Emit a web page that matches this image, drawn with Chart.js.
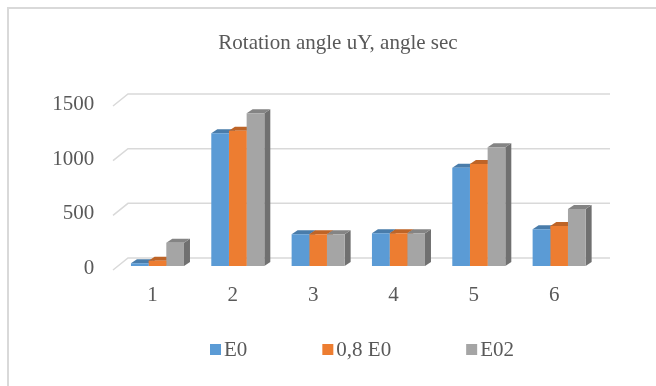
<!DOCTYPE html>
<html>
<head>
<meta charset="utf-8">
<script src="https://cdn.jsdelivr.net/npm/chart.js@4/dist/chart.umd.min.js"></script>
<style>
  html, body { margin: 0; padding: 0; background: #ffffff; }
  #wrap { width: 656px; height: 386px; position: relative; }
</style>
</head>
<body>
<div id="wrap"><canvas id="c" width="656" height="386"></canvas></div>
<script>
// Categories, series and axis ticks
const categories = ['1', '2', '3', '4', '5', '6'];
const seriesNames = ['E0', '0,8 E0', 'E02'];
const seriesE0 = [25, 1214, 290, 300, 899, 336];
const series08E0 = [48, 1238, 290, 300, 933, 366];
const seriesE02 = [213, 1397, 290, 300, 1086, 521];
const yTickValues = [0, 500, 1000, 1500];
const titleText = 'Rotation angle uY, angle sec';

const colors = ['#5b9bd5', '#ed7d31', '#a5a5a5'];
const textColor = '#595959';
const gridColor = '#d9d9d9';
const FONT = '"Liberation Serif", "Times New Roman", serif';
const FONT_SIZE = 21;

// Pseudo-3D geometry (pixels)
const BAR_DX = 6, BAR_DY = 4;        // column depth
const WALL_DX = 10.7, WALL_DY = 8;   // back wall relative to column plane
const FRONT_DX = 4.3, FRONT_DY = 4;  // front edge relative to column plane

function shade(hex, f) {
  const n = parseInt(hex.slice(1), 16);
  const r = Math.round(((n >> 16) & 255) * f);
  const g = Math.round(((n >> 8) & 255) * f);
  const b = Math.round((n & 255) * f);
  return `rgb(${r},${g},${b})`;
}

const pseudo3d = {
  id: 'pseudo3d',
  beforeDraw(chart) {
    const ctx = chart.ctx;
    ctx.save();
    // outer frame
    ctx.strokeStyle = gridColor;
    ctx.lineWidth = 2;
    ctx.beginPath();
    ctx.moveTo(8, 400);
    ctx.lineTo(8, 8);
    ctx.lineTo(700, 8);
    ctx.stroke();
    // chart title
    ctx.font = FONT_SIZE + 'px ' + FONT;
    ctx.fillStyle = textColor;
    ctx.textAlign = 'center';
    ctx.textBaseline = 'alphabetic';
    ctx.fillText(titleText, 338, 49);
    ctx.restore();
  },
  beforeDatasetsDraw(chart) {
    const { ctx, chartArea: a } = chart;
    const y = chart.scales.y;
    ctx.save();
    // floor and wall gridlines
    ctx.strokeStyle = gridColor;
    ctx.lineWidth = 1.5;
    yTickValues.forEach(v => {
      const py = y.getPixelForValue(v);
      ctx.beginPath();
      ctx.moveTo(a.left - FRONT_DX, py + FRONT_DY);
      ctx.lineTo(a.left + WALL_DX, py - WALL_DY);
      ctx.lineTo(a.right + WALL_DX, py - WALL_DY);
      ctx.stroke();
    });
    // side and top faces of the columns, front faces are drawn by the chart
    categories.forEach((_, i) => {
      chart.data.datasets.forEach((ds, d) => {
        const el = chart.getDatasetMeta(d).data[i];
        const x0 = el.x - el.width / 2, x1 = el.x + el.width / 2;
        const top = el.y, base = el.base;
        ctx.fillStyle = shade(colors[d], 0.68);
        ctx.beginPath();
        ctx.moveTo(x1, top);
        ctx.lineTo(x1 + BAR_DX, top - BAR_DY);
        ctx.lineTo(x1 + BAR_DX, base - BAR_DY);
        ctx.lineTo(x1, base);
        ctx.closePath();
        ctx.fill();
        ctx.fillStyle = shade(colors[d], 0.8);
        ctx.beginPath();
        ctx.moveTo(x0, top);
        ctx.lineTo(x1, top);
        ctx.lineTo(x1 + BAR_DX, top - BAR_DY);
        ctx.lineTo(x0 + BAR_DX, top - BAR_DY);
        ctx.closePath();
        ctx.fill();
      });
    });
    ctx.restore();
  },
  afterDraw(chart) {
    // legend row
    const ctx = chart.ctx;
    ctx.save();
    ctx.font = FONT_SIZE + 'px ' + FONT;
    ctx.textBaseline = 'alphabetic';
    ctx.textAlign = 'left';
    const box = 11, gapText = 3, gapItem = 75;
    const widths = seriesNames.map(n => box + gapText + ctx.measureText(n).width);
    const total = widths.reduce((s, w) => s + w, 0) + gapItem * (seriesNames.length - 1);
    let x = 362 - total / 2;
    const baseY = 356;
    seriesNames.forEach((n, d) => {
      ctx.fillStyle = colors[d];
      ctx.fillRect(x, 344, box, box);
      ctx.fillStyle = textColor;
      ctx.fillText(n, x + box + gapText, baseY);
      x += widths[d] + gapItem;
    });
    ctx.restore();
  }
};

new Chart(document.getElementById('c'), {
  type: 'bar',
  data: {
    labels: categories,
    datasets: [
      { label: seriesNames[0], data: seriesE0, backgroundColor: colors[0] },
      { label: seriesNames[1], data: series08E0, backgroundColor: colors[1] },
      { label: seriesNames[2], data: seriesE02, backgroundColor: colors[2] }
    ]
  },
  options: {
    responsive: false,
    animation: false,
    devicePixelRatio: 1,
    layout: { padding: { left: 0, right: 56.7, top: 102, bottom: 79 } },
    datasets: { bar: { categoryPercentage: 0.66, barPercentage: 1.0, borderWidth: 0 } },
    plugins: {
      legend: { display: false },
      tooltip: { enabled: false },
      title: { display: false }
    },
    scales: {
      x: {
        grid: { display: false, drawTicks: false },
        border: { display: false },
        ticks: {
          color: textColor,
          font: { family: FONT, size: FONT_SIZE },
          padding: 17,
          labelOffset: -5,
          maxRotation: 0
        },
        afterFit(scale) { scale.height = 41; }
      },
      y: {
        min: 0,
        max: 1500,
        grid: { display: false, drawTicks: false },
        border: { display: false },
        ticks: {
          stepSize: 500,
          color: textColor,
          font: { family: FONT, size: FONT_SIZE },
          padding: 23,
          labelOffset: 2.5,
          callback: v => String(v)
        },
        afterFit(scale) { scale.width = 117.3; }
      }
    }
  },
  plugins: [pseudo3d]
});
</script>
</body>
</html>
